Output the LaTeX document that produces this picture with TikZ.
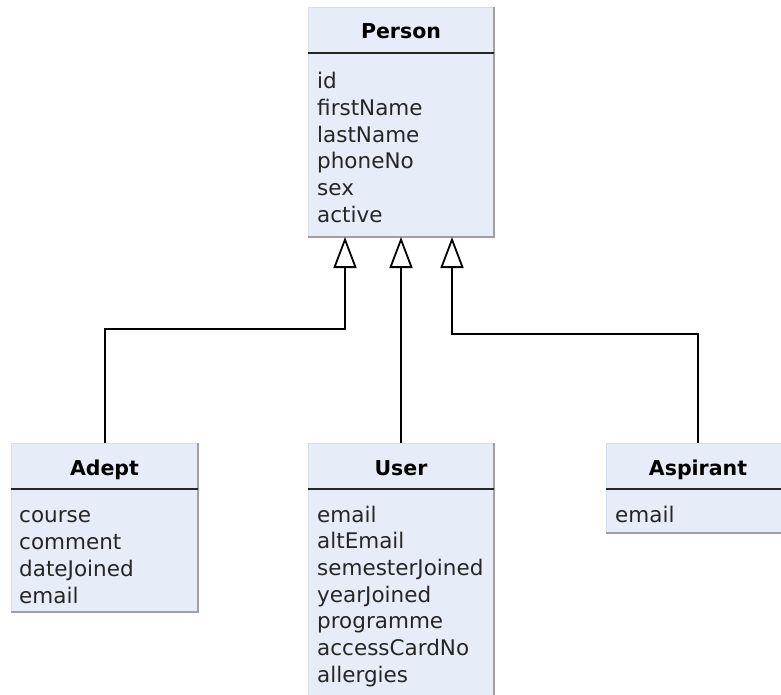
\documentclass[tikz,border=0pt]{standalone}
\usepackage{fontspec}
\setmainfont{DejaVu Sans}
\usetikzlibrary{arrows.meta,calc}

\definecolor{classfill}{RGB}{231,237,248}
\definecolor{classrim}{RGB}{214,221,234}
\definecolor{classshade}{RGB}{160,160,160}

\tikzset{
  classbox/.style={draw=classrim, line width=0.8pt, fill=classfill,
    inner sep=0pt, outer sep=0pt, anchor=north west},
  shadeline/.style={draw=classshade, line width=1.8pt},
  sepline/.style={draw=black!85, line width=1.8pt},
  classtitle/.style={font=\bfseries\fontsize{20.5}{24}\selectfont, anchor=base, inner sep=0pt},
  attr/.style={font=\fontsize{21.5}{26}\selectfont, text=black!85, anchor=base west, inner sep=0pt},
  generalization/.style={draw=black, line width=2pt,
    -{Triangle[length=31pt, width=23pt, fill=white, line width=1.8pt]}},
}

\begin{document}
\begin{tikzpicture}[x=1pt, y=-1pt]
\useasboundingbox (0,0) rectangle (781,695);

% class boxes
\node[classbox, minimum width=186pt, minimum height=230pt] (person) at (308,7) {};
\node[classbox, minimum width=187pt, minimum height=169pt] (adept) at (11,443) {};
\node[classbox, minimum width=186pt, minimum height=255pt] (user) at (308,443) {};
\node[classbox, minimum width=184pt, minimum height=90pt] (aspirant) at (606,443) {};

% darker right and bottom edges, and the title separators
\foreach \c in {person, adept, user, aspirant} {
  \draw[shadeline] (\c.north east) -- (\c.south east) -- (\c.south west);
  \draw[sepline] ([yshift=-46pt]\c.north west) -- ([yshift=-46pt]\c.north east);
}

% titles
\node[classtitle] (person-title) at ([yshift=-32pt]person.north) {Person};
\node[classtitle] (adept-title) at ([yshift=-32pt]adept.north) {Adept};
\node[classtitle] (user-title) at ([yshift=-32pt]user.north) {User};
\node[classtitle] (aspirant-title) at ([yshift=-32pt]aspirant.north) {Aspirant};

% attributes
\foreach \t [count=\i from 0] in {id, firstName, lastName, phoneNo, sex, active}
  \node[attr] (person-a\i) at ($(person.north west)+(9pt,{-81.5pt-26.8pt*\i})$) {\t};
\foreach \t [count=\i from 0] in {course, comment, dateJoined, email}
  \node[attr] (adept-a\i) at ($(adept.north west)+(8pt,{-79pt-27pt*\i})$) {\t};
\foreach \t [count=\i from 0] in {email, altEmail, semesterJoined, yearJoined, programme, accessCardNo, allergies}
  \node[attr] (user-a\i) at ($(user.north west)+(9pt,{-79pt-26.7pt*\i})$) {\t};
\node[attr] (aspirant-a0) at ($(aspirant.north west)+(9pt,-79pt)$) {email};

% inheritance arrows
\coordinate (tipA) at ([xshift=37pt]person.south west);
\coordinate (tipU) at (person.south);
\coordinate (tipS) at ([xshift=144pt]person.south west);

\draw[generalization] (adept.north) |- ([yshift=-92pt]tipA) -- (tipA);
\draw[generalization] (user.north) -- (tipU);
\draw[generalization] (aspirant.north) |- ([yshift=-97pt]tipS) -- (tipS);
\end{tikzpicture}
\end{document}
